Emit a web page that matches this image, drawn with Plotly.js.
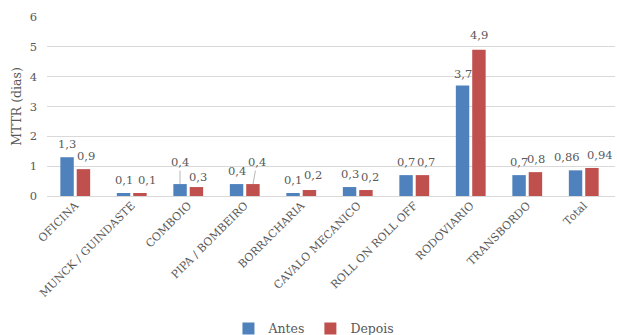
<!DOCTYPE html>
<html><head><meta charset="utf-8">
<script src="https://cdn.plot.ly/plotly-3.0.1.min.js"></script>
<style>html,body{margin:0;padding:0;background:#fff}</style>
</head><body><div id="chart" style="width:617px;height:335px"></div>
<script>
const categories = ["OFICINA","MUNCK / GUINDASTE","COMBOIO","PIPA / BOMBEIRO","BORRACHARIA","CAVALO MECANICO","ROLL ON ROLL OFF","RODOVIARIO","TRANSBORDO","Total"];
const antes = [1.3,0.1,0.4,0.4,0.1,0.3,0.7,3.7,0.7,0.86];
const depois = [0.9,0.1,0.3,0.4,0.2,0.2,0.7,4.9,0.8,0.94];
const antesLabels = ["1,3","0,1","0,4","0,4","0,1","0,3","0,7","3,7","0,7","0,86"];
const depoisLabels = ["0,9","0,1","0,3","0,4","0,2","0,2","0,7","4,9","0,8","0,94"];

// label nudges (layout only), keyed by category
const nudgeAntes = {"OFICINA":[0,0], "Total":[-9,0], "RODOVIARIO":[0,-1]};
const nudgeDepois = {"OFICINA":[2,0], "MUNCK / GUINDASTE":[7,0], "COMBOIO":[1,-3], "CAVALO MECANICO":[4,0], "ROLL ON ROLL OFF":[3,0], "Total":[8,0], "RODOVIARIO":[0,2], "BORRACHARIA":[3,2]};

const font = "DejaVu Serif, serif";
const grey = "#595959";
const annotations = [];
const off = 8.25;
const lsize = 11.5;
categories.forEach((c,i)=>{
  const na = nudgeAntes[c]||[0,0], nd = nudgeDepois[c]||[0,0];
  const la = {x:c, y:antes[i], xref:'x', yref:'y', text:antesLabels[i], xshift:-off+na[0], yshift:13+na[1], showarrow:false, font:{family:font,size:lsize,color:grey}};
  const ld = {x:c, y:depois[i], xref:'x', yref:'y', text:depoisLabels[i], xshift:off+nd[0], yshift:13+nd[1], showarrow:false, font:{family:font,size:lsize,color:grey}};
  if (c==="COMBOIO") { Object.assign(la,{showarrow:true, arrowhead:0, arrowwidth:0.8, arrowcolor:"#a6a6a6", ax:0, ay:-22, yshift:0, xshift:-off, standoff:0}); }
  if (c==="PIPA / BOMBEIRO") { Object.assign(ld,{showarrow:true, arrowhead:0, arrowwidth:0.8, arrowcolor:"#a6a6a6", ax:4, ay:-22, yshift:0, xshift:off, standoff:0}); }
  annotations.push(la, ld);
});

const data = [
  {type:'bar', name:'Antes', x:categories, y:antes, marker:{color:'#4F81BD'}, hoverinfo:'none'},
  {type:'bar', name:'Depois', x:categories, y:depois, marker:{color:'#C0504D'}, hoverinfo:'none'}
];
const layout = {
  width:617, height:335,
  margin:{l:47, r:2, t:17, b:139, autoexpand:false},
  paper_bgcolor:'#fff', plot_bgcolor:'#fff',
  barmode:'group', bargap:0.42, bargroupgap:0.18,
  font:{family:font, color:grey},
  xaxis:{automargin:false, tickangle:-45, tickfont:{family:font,size:11,color:grey}, showline:false, ticks:'', showgrid:false},
  yaxis:{automargin:false, range:[0,6], dtick:1, tickfont:{family:font,size:11.5,color:grey}, gridcolor:'#d9d9d9', gridwidth:1, zeroline:true, zerolinecolor:'#d9d9d9', zerolinewidth:1, ticklabelstandoff:9,
         title:{text:'MTTR (dias)', font:{family:font,size:12.5,color:grey}, standoff:5}},
  showlegend:true,
  legend:{orientation:'h', x:0.47, xanchor:'center', y:-0.743, yanchor:'middle', font:{family:font,size:12.5,color:grey}, itemwidth:30, traceorder:'normal'},
  annotations:annotations
};
Plotly.newPlot('chart', data, layout, {displayModeBar:false, staticPlot:true});
</script></body></html>
